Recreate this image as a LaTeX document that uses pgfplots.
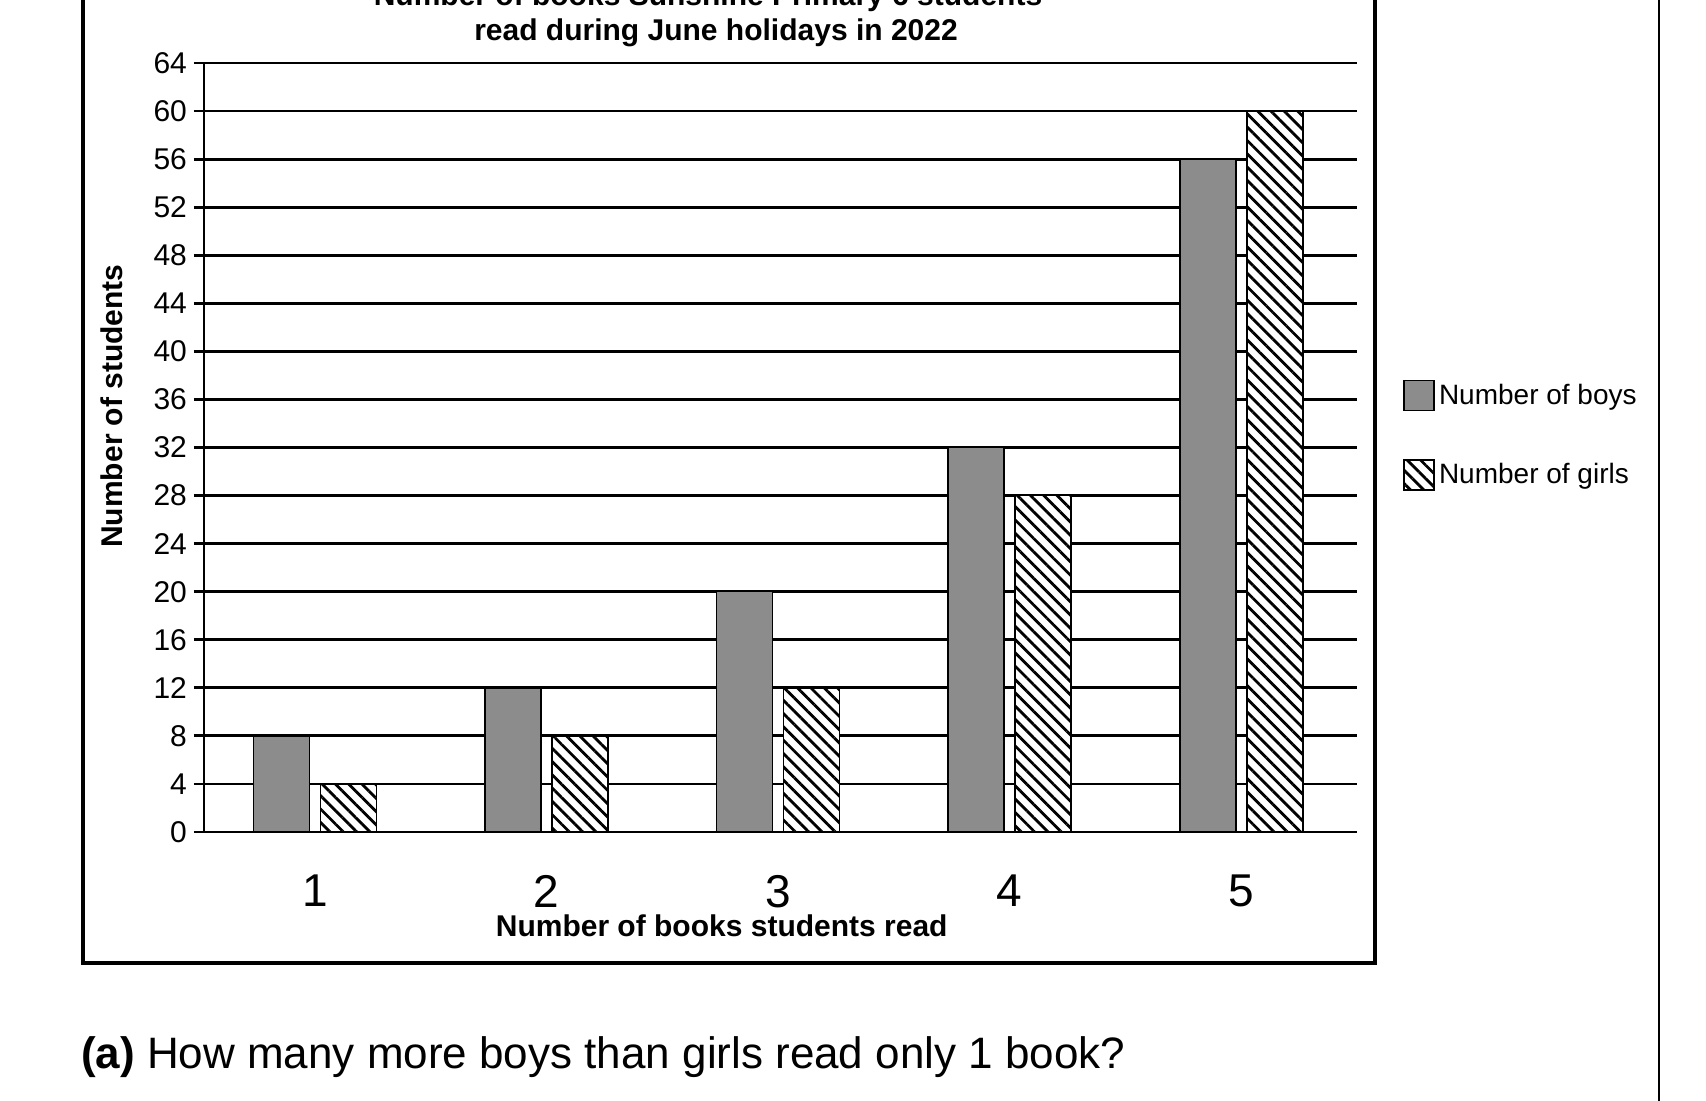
\documentclass[border=0pt]{standalone}
\usepackage{fontspec}
\setmainfont{Liberation Sans}
\usepackage{pgfplots}
\pgfplotsset{compat=1.18}
\usetikzlibrary{patterns.meta}
\definecolor{boygray}{RGB}{140,140,140}
\begin{document}
\begin{tikzpicture}[x=1pt,y=1pt]
\useasboundingbox (0,0) rectangle (853,550);
\draw[line width=1.6pt] (41.5,68.5) rectangle (687.5,570);
\draw[line width=1.4pt] (829.5,-5) -- (829.5,560);
\node[font=\bfseries\fontsize{15}{18}\selectfont, anchor=base] at (354,547) {Number of books Sunshine Primary 6 students};
\node[font=\bfseries\fontsize{15}{18}\selectfont, anchor=base] at (358,529.5) {read during June holidays in 2022};
\begin{axis}[
  at={(102pt,134pt)}, anchor=origin,
  width=576.5pt, height=384.5pt, scale only axis,
  xmin=0.52, xmax=5.5, ymin=0, ymax=64,
  axis x line*=bottom, axis y line*=left,
  axis line style={line width=1.4pt, -},
  ytick={0,4,...,64}, xtick={1,2,3,4,5}, xticklabels={1,2,3,4,5},
  ymajorgrids, grid style={line width=1.4pt, black},
  tick align=outside, major tick length=5pt,
  ytick style={line width=1.4pt, black},
  xtick style={draw=none},
  yticklabel style={font=\fontsize{15}{18}\selectfont, /pgf/number format/assume math mode=true},
  xticklabel style={font=\fontsize{23}{27}\selectfont, yshift=-13pt},
  xlabel={Number of books students read},
  xlabel style={font=\bfseries\fontsize{15}{18}\selectfont, at={(rel axis cs:0.449,-0.1365)}, anchor=base},
  ylabel={Number of students},
  ylabel style={font=\bfseries\fontsize{15}{18}\selectfont, at={(rel axis cs:-0.0798,0.554)}, anchor=center},
  ybar=5.5pt, bar width=28pt,
  legend style={draw=none, fill=none, at={(rel axis cs:1.0347,0.594)}, anchor=north west,
    font=\fontsize{14}{17}\selectfont, row sep=24pt, legend cell align=left},
  legend image code/.code={\draw[#1, line width=0.8pt] (0pt,-7.5pt) rectangle (15pt,7.5pt);},
]
\addplot[fill=boygray, draw=black, line width=0.8pt] coordinates {(1,8) (2,12) (3,20) (4,32) (5,56)};
\addplot[fill=white, draw=black, line width=0.8pt, postaction={pattern={Lines[angle=-45,distance=4.7pt,line width=1.4pt]}}] coordinates {(1,4) (2,8) (3,12) (4,28) (5,60)};
\legend{Number of boys, Number of girls}
\end{axis}
\node[anchor=base west, font=\fontsize{22}{26}\selectfont] at (37,16) {\textbf{(a)} How many more boys than girls read only 1 book?};
\end{tikzpicture}
\end{document}
